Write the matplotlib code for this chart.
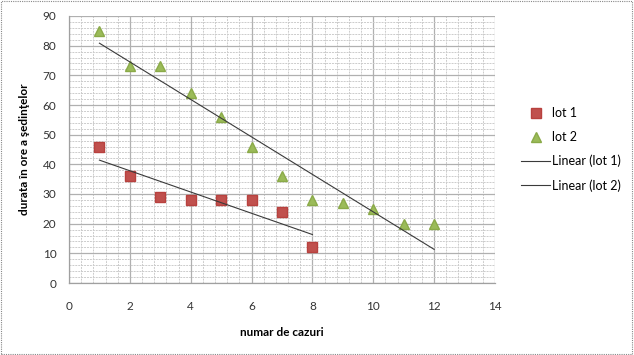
import numpy as np
import matplotlib
matplotlib.use("Agg")
import matplotlib.pyplot as plt
from matplotlib.ticker import MultipleLocator
from matplotlib.patches import Rectangle

lot1_x = [1, 2, 3, 4, 5, 6, 7, 8]
lot1_y = [46, 36, 29, 28, 28, 28, 24, 12]
lot2_x = [1, 2, 3, 4, 5, 6, 7, 8, 9, 10, 11, 12]
lot2_y = [85, 73, 73, 64, 56, 46, 36, 28, 27, 25, 20, 20]

plt.rcParams['font.family'] = ['Lato', 'DejaVu Sans']

fig = plt.figure(figsize=(6.34, 3.55), dpi=100)
ax = fig.add_axes([69/634, 1-283/355, (495-69)/634, (283-16)/355])

ax.set_xlim(0, 14)
ax.set_ylim(0, 90)
ax.xaxis.set_major_locator(MultipleLocator(2))
ax.xaxis.set_minor_locator(MultipleLocator(0.4))
ax.yaxis.set_major_locator(MultipleLocator(10))
ax.yaxis.set_minor_locator(MultipleLocator(2))
ax.grid(which='major', color='#b0b0b0', linewidth=0.9)
ax.grid(which='minor', color='#cccccc', linewidth=0.7, linestyle=(0, (2, 1)))
ax.set_axisbelow(True)
for s in ['top', 'right']:
    ax.spines[s].set_visible(False)
for s in ['left', 'bottom']:
    ax.spines[s].set_color('#a0a0a0')
    ax.spines[s].set_linewidth(0.9)
ax.tick_params(which='both', length=0)
ax.tick_params(axis='x', pad=13, labelsize=8.5, colors='#333333')
ax.tick_params(axis='y', pad=9, labelsize=8.5, colors='#333333')

ax.plot(lot1_x, lot1_y, linestyle='none', marker='s', markersize=7,
        color='#C0504D', markeredgecolor='#B8413E', label='lot 1', zorder=3)
ax.plot(lot2_x, lot2_y, linestyle='none', marker='^', markersize=7.5,
        color='#9BBB59', markeredgecolor='#8AAA48', label='lot 2', zorder=3)

for xs, ys, lab in [(lot1_x, lot1_y, 'Linear (lot 1)'), (lot2_x, lot2_y, 'Linear (lot 2)')]:
    xs_a = np.array(xs, dtype=float)
    m, b = np.polyfit(xs_a, np.array(ys, dtype=float), 1)
    xe = np.array([xs_a.min(), xs_a.max()])
    ax.plot(xe, m*xe + b, color='#3a3a3a', linewidth=0.8, label=lab, zorder=4)

ax.set_xlabel('numar de cazuri', fontsize=8.5, fontweight='bold', labelpad=11)
ax.set_ylabel('durata în ore a şedinţelor', fontsize=8.5, fontweight='bold', labelpad=9)

leg = ax.legend(loc='center left', bbox_to_anchor=(1.035, 0.5), frameon=False,
                fontsize=9, handlelength=2.3, labelspacing=0.95, handletextpad=0.2)

fig.patches.append(Rectangle((0.002, 0.003), 0.995, 0.993, transform=fig.transFigure,
                             fill=False, edgecolor='#888888', linewidth=0.8,
                             linestyle=(0, (1, 1))))

fig.savefig('out.png', dpi=100)
